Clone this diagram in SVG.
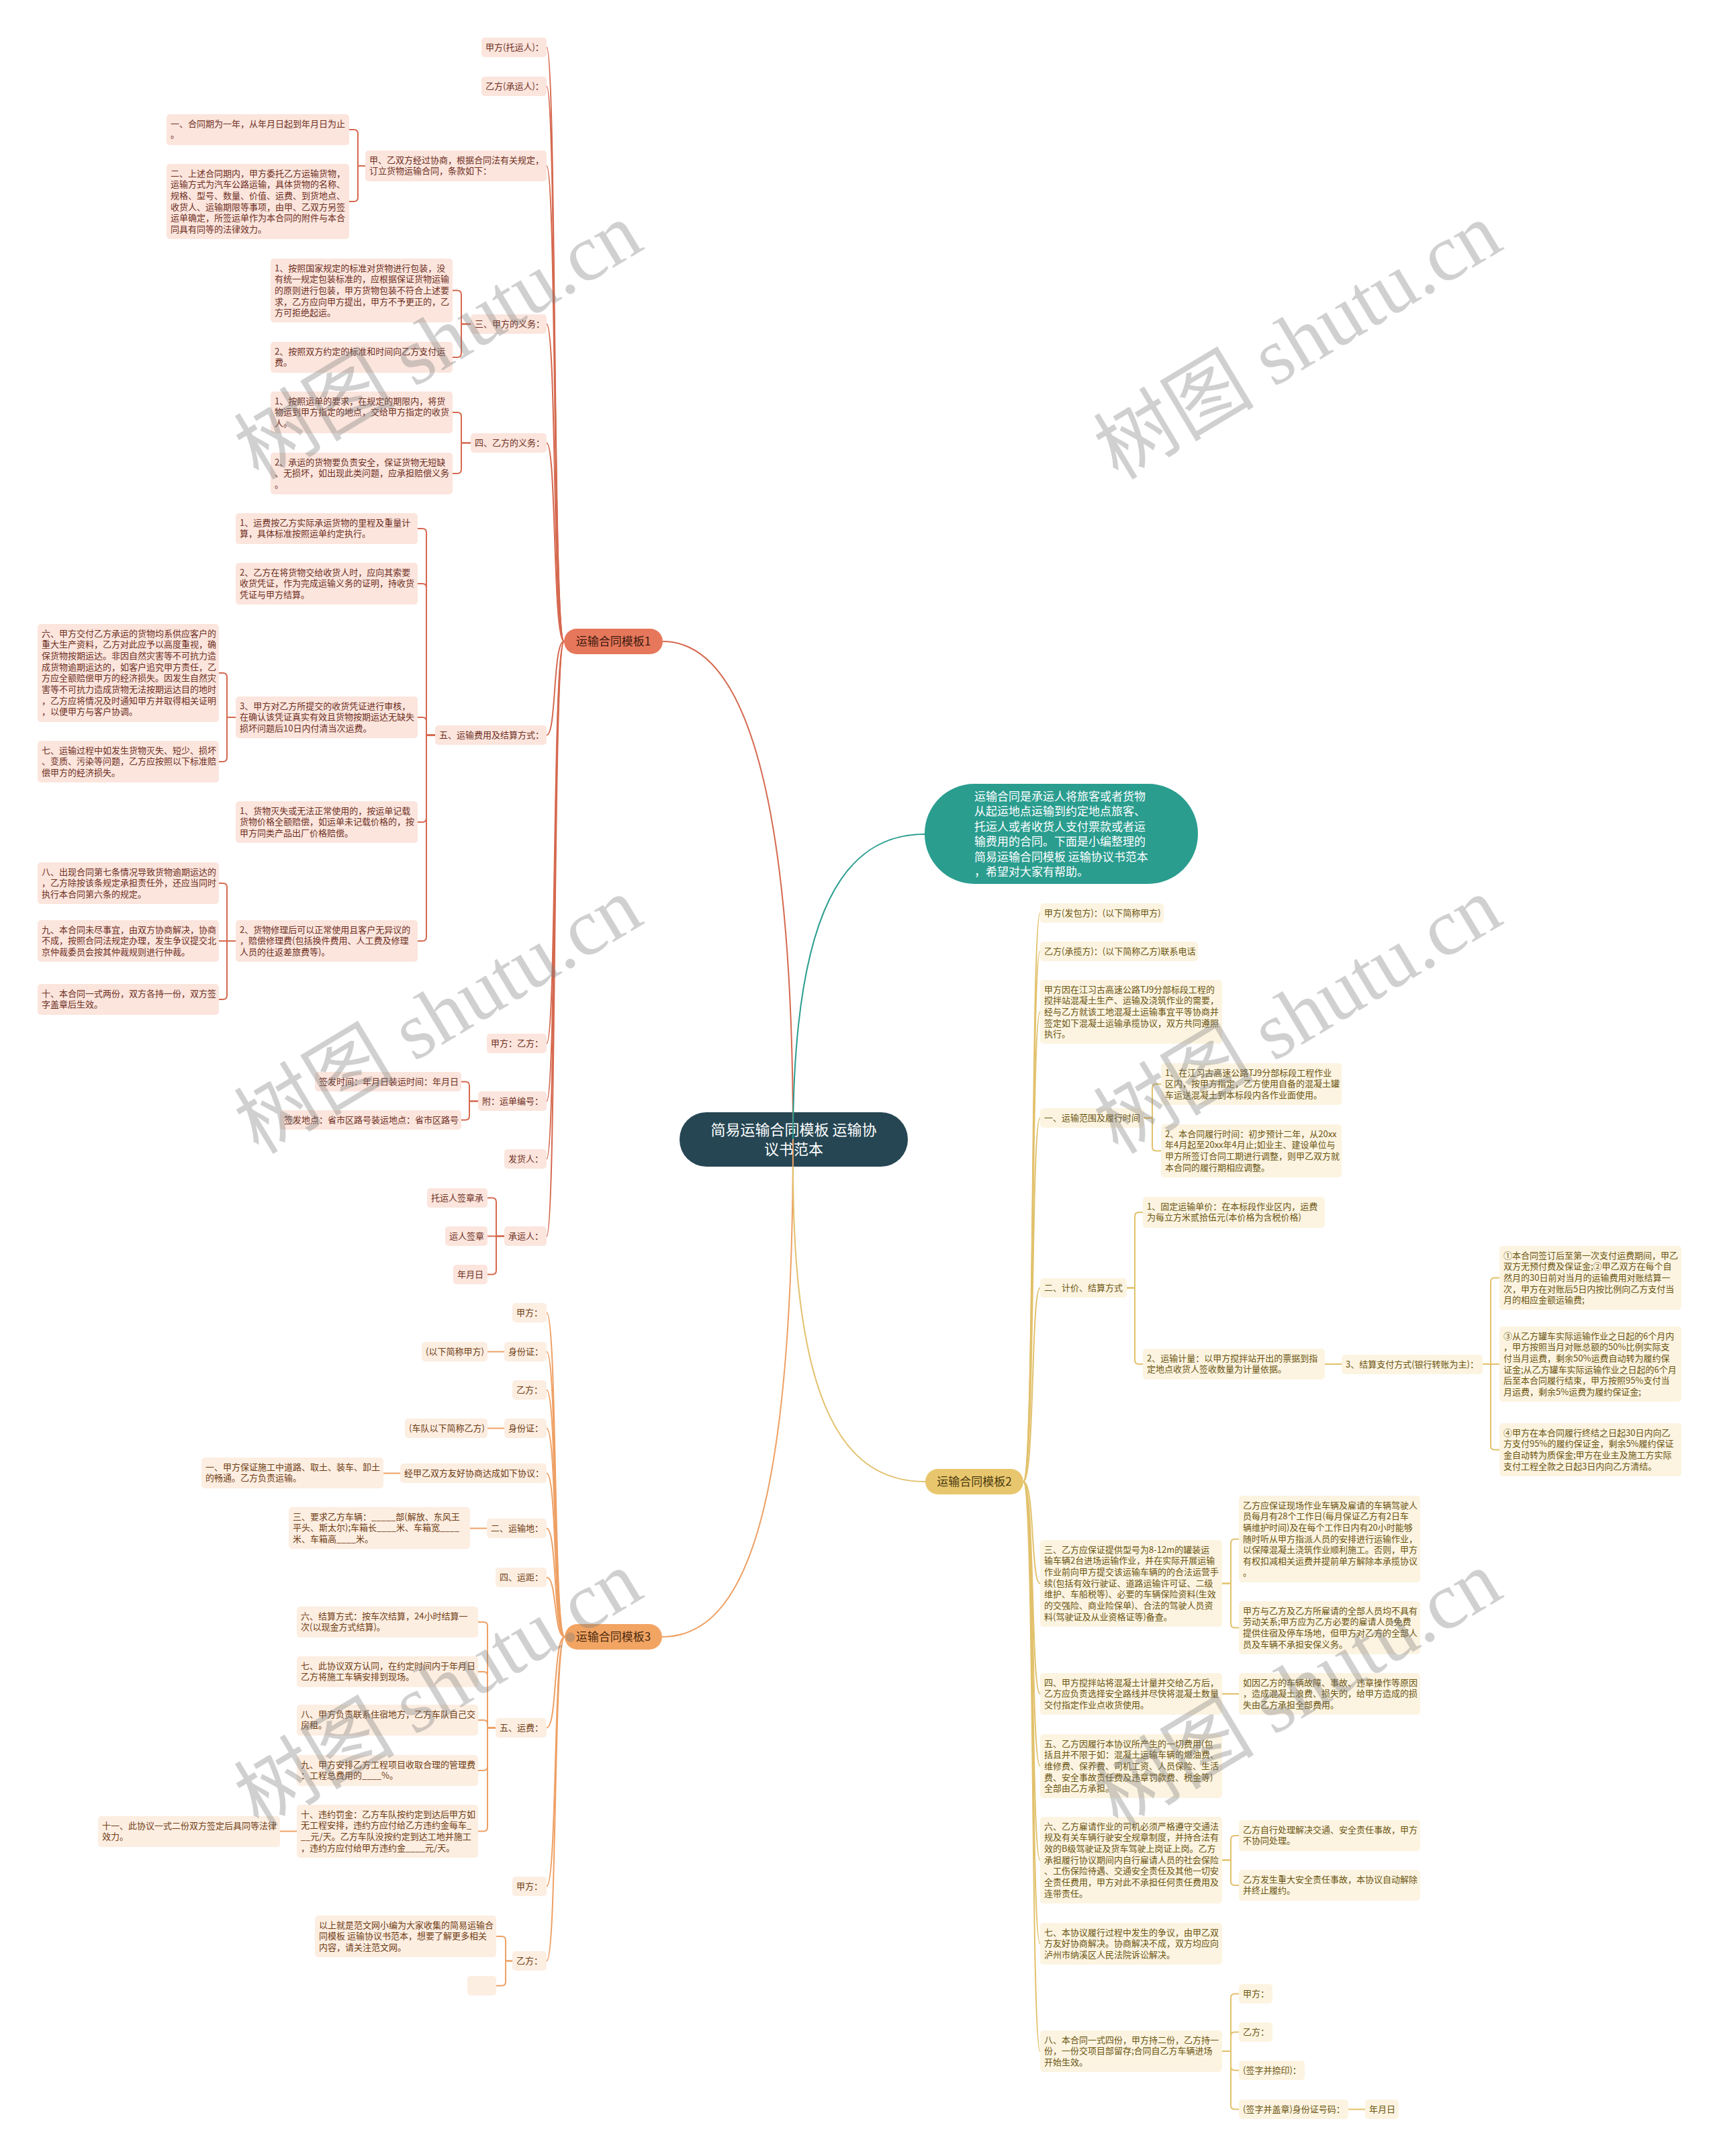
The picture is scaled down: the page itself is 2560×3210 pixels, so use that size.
<svg xmlns="http://www.w3.org/2000/svg" width="2560" height="3210" viewBox="0 0 2560 3210">
<style>
text{font-family:"Noto Sans CJK SC","Noto Sans",sans-serif;font-size:13px}
.k1 rect{fill:#fbe5dd}.k1 text{fill:#6e2f1f}
.k3 rect{fill:#fdeee2}.k3 text{fill:#6e3d14}
.k2 rect{fill:#fcf4e1}.k2 text{fill:#6b5512}
.b text{font-size:17px;text-anchor:middle}
.c1 path{fill:none;stroke:#d5694f;stroke-width:2}
.c3 path{fill:none;stroke:#eea064;stroke-width:2}
.c2 path{fill:none;stroke:#e2c16c;stroke-width:2}
.ct path{fill:none;stroke:#2a9d8f;stroke-width:2}
.wm text{font-family:"Liberation Serif","Noto Sans CJK SC",serif;font-size:120px;fill:#7a7a7a;opacity:0.35}
</style>
<rect width="2560" height="3210" fill="#ffffff"/>
<g id="root"><rect x="1012" y="1656" width="340" height="81" rx="40" fill="#264653"/><text x="1182" y="1690" style="font-size:22px;fill:#fff;text-anchor:middle"><tspan x="1182">简易运输合同模板 运输协</tspan><tspan x="1182" dy="29">议书范本</tspan></text></g>
<g id="intro"><rect x="1377" y="1167" width="407" height="149" rx="74" fill="#2a9d8f"/><text x="1451" y="1192" style="font-size:17px;fill:#fff"><tspan x="1451">运输合同是承运人将旅客或者货物</tspan><tspan x="1451" dy="22.4">从起运地点运输到约定地点旅客、</tspan><tspan x="1451" dy="22.4">托运人或者收货人支付票款或者运</tspan><tspan x="1451" dy="22.4">输费用的合同。下面是小编整理的</tspan><tspan x="1451" dy="22.4">简易运输合同模板 运输协议书范本</tspan><tspan x="1451" dy="22.4">，希望对大家有帮助。</tspan></text></g>
<g id="b1" class="b"><rect x="840" y="936" width="147" height="38" rx="19" fill="#e6775b"/><text x="913.5" y="961" fill="#3d1a10">运输合同模板1</text></g>
<g id="b2" class="b"><rect x="1378" y="2187" width="146" height="38" rx="19" fill="#e8c66d"/><text x="1451" y="2212" fill="#4a3a10">运输合同模板2</text></g>
<g id="b3" class="b"><rect x="841" y="2418" width="145" height="38" rx="19" fill="#f2a463"/><text x="913.5" y="2443" fill="#4a2a10">运输合同模板3</text></g>

<g id="A1" class="k1"><rect x="717" y="56" width="97" height="29" rx="5"/><text x="723" y="75">甲方(托运人)：</text></g>
<g id="A2" class="k1"><rect x="717" y="114" width="97" height="29" rx="5"/><text x="723" y="133">乙方(承运人)：</text></g>
<g id="A3" class="k1"><rect x="544" y="224" width="270" height="46" rx="5"/><text x="550" y="242.5"><tspan x="550">甲、乙双方经过协商，根据合同法有关规定，</tspan><tspan x="550" dy="16.7">订立货物运输合同，条款如下：</tspan></text></g>
<g id="A3a" class="k1"><rect x="248" y="170" width="272" height="46" rx="5"/><text x="254" y="188.5"><tspan x="254">一、合同期为一年，从年月日起到年月日为止</tspan><tspan x="254" dy="16.7">。</tspan></text></g>
<g id="A3b" class="k1"><rect x="248" y="244" width="272" height="112" rx="5"/><text x="254" y="262.5"><tspan x="254">二、上述合同期内，甲方委托乙方运输货物，</tspan><tspan x="254" dy="16.7">运输方式为汽车公路运输，具体货物的名称、</tspan><tspan x="254" dy="16.7">规格、型号、数量、价值、运费、到货地点、</tspan><tspan x="254" dy="16.7">收货人、运输期限等事项，由甲、乙双方另签</tspan><tspan x="254" dy="16.7">运单确定，所签运单作为本合同的附件与本合</tspan><tspan x="254" dy="16.7">同具有同等的法律效力。</tspan></text></g>
<g id="A4" class="k1"><rect x="701" y="468" width="113" height="29" rx="5"/><text x="707" y="487">三、甲方的义务：</text></g>
<g id="A4a" class="k1"><rect x="403" y="385" width="271" height="95" rx="5"/><text x="409" y="403.5"><tspan x="409">1、按照国家规定的标准对货物进行包装，没</tspan><tspan x="409" dy="16.7">有统一规定包装标准的，应根据保证货物运输</tspan><tspan x="409" dy="16.7">的原则进行包装，甲方货物包装不符合上述要</tspan><tspan x="409" dy="16.7">求，乙方应向甲方提出，甲方不予更正的，乙</tspan><tspan x="409" dy="16.7">方可拒绝起运。</tspan></text></g>
<g id="A4b" class="k1"><rect x="403" y="509" width="271" height="46" rx="5"/><text x="409" y="527.5"><tspan x="409">2、按照双方约定的标准和时间向乙方支付运</tspan><tspan x="409" dy="16.7">费。</tspan></text></g>
<g id="A5" class="k1"><rect x="701" y="645" width="113" height="29" rx="5"/><text x="707" y="664">四、乙方的义务：</text></g>
<g id="A5a" class="k1"><rect x="403" y="583" width="271" height="62" rx="5"/><text x="409" y="601.5"><tspan x="409">1、按照运单的要求，在规定的期限内，将货</tspan><tspan x="409" dy="16.7">物运到甲方指定的地点，交给甲方指定的收货</tspan><tspan x="409" dy="16.7">人。</tspan></text></g>
<g id="A5b" class="k1"><rect x="403" y="674" width="271" height="62" rx="5"/><text x="409" y="692.5"><tspan x="409">2、承运的货物要负责安全，保证货物无短缺</tspan><tspan x="409" dy="16.7">、无损坏，如出现此类问题，应承担赔偿义务</tspan><tspan x="409" dy="16.7">。</tspan></text></g>
<g id="A6" class="k1"><rect x="648" y="1080" width="166" height="29" rx="5"/><text x="654" y="1099">五、运输费用及结算方式：</text></g>
<g id="A6a" class="k1"><rect x="351" y="764" width="271" height="46" rx="5"/><text x="357" y="782.5"><tspan x="357">1、运费按乙方实际承运货物的里程及重量计</tspan><tspan x="357" dy="16.7">算，具体标准按照运单约定执行。</tspan></text></g>
<g id="A6b" class="k1"><rect x="351" y="838" width="271" height="62" rx="5"/><text x="357" y="856.5"><tspan x="357">2、乙方在将货物交给收货人时，应向其索要</tspan><tspan x="357" dy="16.7">收货凭证，作为完成运输义务的证明，持收货</tspan><tspan x="357" dy="16.7">凭证与甲方结算。</tspan></text></g>
<g id="A6c" class="k1"><rect x="351" y="1037" width="271" height="62" rx="5"/><text x="357" y="1055.5"><tspan x="357">3、甲方对乙方所提交的收货凭证进行审核，</tspan><tspan x="357" dy="16.7">在确认该凭证真实有效且货物按期运达无缺失</tspan><tspan x="357" dy="16.7">损坏问题后10日内付清当次运费。</tspan></text></g>
<g id="A6c1" class="k1"><rect x="56" y="929" width="270" height="146" rx="5"/><text x="62" y="947.5"><tspan x="62">六、甲方交付乙方承运的货物均系供应客户的</tspan><tspan x="62" dy="16.7">重大生产资料，乙方对此应予以高度重视，确</tspan><tspan x="62" dy="16.7">保货物按期运达。非因自然灾害等不可抗力造</tspan><tspan x="62" dy="16.7">成货物逾期运达的，如客户追究甲方责任，乙</tspan><tspan x="62" dy="16.7">方应全额赔偿甲方的经济损失。因发生自然灾</tspan><tspan x="62" dy="16.7">害等不可抗力造成货物无法按期运达目的地时</tspan><tspan x="62" dy="16.7">，乙方应将情况及时通知甲方并取得相关证明</tspan><tspan x="62" dy="16.7">，以便甲方与客户协调。</tspan></text></g>
<g id="A6c2" class="k1"><rect x="56" y="1103" width="270" height="62" rx="5"/><text x="62" y="1121.5"><tspan x="62">七、运输过程中如发生货物灭失、短少、损坏</tspan><tspan x="62" dy="16.7">、变质、污染等问题，乙方应按照以下标准赔</tspan><tspan x="62" dy="16.7">偿甲方的经济损失。</tspan></text></g>
<g id="A6d" class="k1"><rect x="351" y="1193" width="271" height="62" rx="5"/><text x="357" y="1211.5"><tspan x="357">1、货物灭失或无法正常使用的，按运单记载</tspan><tspan x="357" dy="16.7">货物价格全额赔偿，如运单未记载价格的，按</tspan><tspan x="357" dy="16.7">甲方同类产品出厂价格赔偿。</tspan></text></g>
<g id="A6e" class="k1"><rect x="351" y="1370" width="271" height="62" rx="5"/><text x="357" y="1388.5"><tspan x="357">2、货物修理后可以正常使用且客户无异议的</tspan><tspan x="357" dy="16.7">，赔偿修理费(包括换件费用、人工费及修理</tspan><tspan x="357" dy="16.7">人员的往返差旅费等)。</tspan></text></g>
<g id="A6e1" class="k1"><rect x="56" y="1284" width="270" height="62" rx="5"/><text x="62" y="1302.5"><tspan x="62">八、出现合同第七条情况导致货物逾期运达的</tspan><tspan x="62" dy="16.7">，乙方除按该条规定承担责任外，还应当同时</tspan><tspan x="62" dy="16.7">执行本合同第六条的规定。</tspan></text></g>
<g id="A6e2" class="k1"><rect x="56" y="1370" width="270" height="62" rx="5"/><text x="62" y="1388.5"><tspan x="62">九、本合同未尽事宜，由双方协商解决，协商</tspan><tspan x="62" dy="16.7">不成，按照合同法规定办理，发生争议提交北</tspan><tspan x="62" dy="16.7">京仲裁委员会按其仲裁规则进行仲裁。</tspan></text></g>
<g id="A6e3" class="k1"><rect x="56" y="1465" width="270" height="46" rx="5"/><text x="62" y="1483.5"><tspan x="62">十、本合同一式两份，双方各持一份，双方签</tspan><tspan x="62" dy="16.7">字盖章后生效。</tspan></text></g>
<g id="A7" class="k1"><rect x="725" y="1539" width="89" height="29" rx="5"/><text x="731" y="1558">甲方：乙方：</text></g>
<g id="A8" class="k1"><rect x="712" y="1625" width="102" height="29" rx="5"/><text x="718" y="1644">附：运单编号：</text></g>
<g id="A8a" class="k1"><rect x="469" y="1596" width="218" height="29" rx="5"/><text x="475" y="1615">签发时间：年月日装运时间：年月日</text></g>
<g id="A8b" class="k1"><rect x="417" y="1653" width="270" height="29" rx="5"/><text x="423" y="1672">签发地点：省市区路号装运地点：省市区路号</text></g>
<g id="A9" class="k1"><rect x="751" y="1711" width="63" height="29" rx="5"/><text x="757" y="1730">发货人：</text></g>
<g id="A10" class="k1"><rect x="751" y="1826" width="63" height="29" rx="5"/><text x="757" y="1845">承运人：</text></g>
<g id="A10a" class="k1"><rect x="636" y="1769" width="90" height="29" rx="5"/><text x="642" y="1788">托运人签章承</text></g>
<g id="A10b" class="k1"><rect x="663" y="1826" width="63" height="29" rx="5"/><text x="669" y="1845">运人签章</text></g>
<g id="A10c" class="k1"><rect x="675" y="1883" width="51" height="29" rx="5"/><text x="681" y="1902">年月日</text></g>

<g id="B1" class="k3"><rect x="763" y="1940" width="51" height="29" rx="5"/><text x="769" y="1959">甲方：</text></g>
<g id="B2" class="k3"><rect x="751" y="1998" width="63" height="29" rx="5"/><text x="757" y="2017">身份证：</text></g>
<g id="B2a" class="k3"><rect x="628" y="1998" width="98" height="29" rx="5"/><text x="634" y="2017">(以下简称甲方)</text></g>
<g id="B3" class="k3"><rect x="763" y="2055" width="51" height="29" rx="5"/><text x="769" y="2074">乙方：</text></g>
<g id="B4" class="k3"><rect x="751" y="2112" width="63" height="29" rx="5"/><text x="757" y="2131">身份证：</text></g>
<g id="B4a" class="k3"><rect x="603" y="2112" width="123" height="29" rx="5"/><text x="609" y="2131">(车队以下简称乙方)</text></g>
<g id="B5" class="k3"><rect x="596" y="2179" width="218" height="29" rx="5"/><text x="602" y="2198">经甲乙双方友好协商达成如下协议：</text></g>
<g id="B5a" class="k3"><rect x="300" y="2170" width="271" height="46" rx="5"/><text x="306" y="2188.5"><tspan x="306">一、甲方保证施工中道路、取土、装车、卸土</tspan><tspan x="306" dy="16.7">的畅通。乙方负责运输。</tspan></text></g>
<g id="B6" class="k3"><rect x="725" y="2261" width="89" height="29" rx="5"/><text x="731" y="2280">二、运输地：</text></g>
<g id="B6a" class="k3"><rect x="430" y="2244" width="270" height="62" rx="5"/><text x="436" y="2262.5"><tspan x="436">三、要求乙方车辆：_____部(解放、东风王</tspan><tspan x="436" dy="16.7">平头、斯太尔);车箱长____米、车箱宽____</tspan><tspan x="436" dy="16.7">米、车箱高____米。</tspan></text></g>
<g id="B7" class="k3"><rect x="738" y="2334" width="76" height="29" rx="5"/><text x="744" y="2353">四、运距：</text></g>
<g id="B8" class="k3"><rect x="738" y="2558" width="76" height="29" rx="5"/><text x="744" y="2577">五、运费：</text></g>
<g id="B8a" class="k3"><rect x="442" y="2392" width="270" height="46" rx="5"/><text x="448" y="2410.5"><tspan x="448">六、结算方式：按车次结算，24小时结算一</tspan><tspan x="448" dy="16.7">次(以现金方式结算)。</tspan></text></g>
<g id="B8b" class="k3"><rect x="442" y="2466" width="270" height="46" rx="5"/><text x="448" y="2484.5"><tspan x="448">七、此协议双方认同，在约定时间内于年月日</tspan><tspan x="448" dy="16.7">乙方将施工车辆安排到现场。</tspan></text></g>
<g id="B8c" class="k3"><rect x="442" y="2538" width="270" height="46" rx="5"/><text x="448" y="2556.5"><tspan x="448">八、甲方负责联系住宿地方，乙方车队自己交</tspan><tspan x="448" dy="16.7">房租。</tspan></text></g>
<g id="B8d" class="k3"><rect x="442" y="2613" width="270" height="46" rx="5"/><text x="448" y="2631.5"><tspan x="448">九、甲方安排乙方工程项目收取合理的管理费</tspan><tspan x="448" dy="16.7">：工程总费用的____%。</tspan></text></g>
<g id="B8e" class="k3"><rect x="442" y="2687" width="270" height="79" rx="5"/><text x="448" y="2705.5"><tspan x="448">十、违约罚金：乙方车队按约定到达后甲方如</tspan><tspan x="448" dy="16.7">无工程安排，违约方应付给乙方违约金每车_</tspan><tspan x="448" dy="16.7">__元/天。乙方车队没按约定到达工地并施工</tspan><tspan x="448" dy="16.7">，违约方应付给甲方违约金____元/天。</tspan></text></g>
<g id="B8e1" class="k3"><rect x="146" y="2704" width="271" height="46" rx="5"/><text x="152" y="2722.5"><tspan x="152">十一、此协议一式二份双方签定后具同等法律</tspan><tspan x="152" dy="16.7">效力。</tspan></text></g>
<g id="B9" class="k3"><rect x="763" y="2794" width="51" height="29" rx="5"/><text x="769" y="2813">甲方：</text></g>
<g id="B10" class="k3"><rect x="763" y="2905" width="51" height="29" rx="5"/><text x="769" y="2924">乙方：</text></g>
<g id="B10a" class="k3"><rect x="469" y="2852" width="270" height="62" rx="5"/><text x="475" y="2870.5"><tspan x="475">以上就是范文网小编为大家收集的简易运输合</tspan><tspan x="475" dy="16.7">同模板 运输协议书范本，想要了解更多相关</tspan><tspan x="475" dy="16.7">内容，请关注范文网。</tspan></text></g>
<g id="B10b" class="k3"><rect x="696" y="2942" width="43" height="29" rx="5"/></g>

<g id="C1" class="k2"><rect x="1549" y="1345" width="184" height="29" rx="5"/><text x="1555" y="1364">甲方(发包方)：(以下简称甲方)</text></g>
<g id="C2" class="k2"><rect x="1549" y="1402" width="235" height="29" rx="5"/><text x="1555" y="1421">乙方(承揽方)：(以下简称乙方)联系电话</text></g>
<g id="C3" class="k2"><rect x="1549" y="1459" width="271" height="95" rx="5"/><text x="1555" y="1477.5"><tspan x="1555">甲方因在江习古高速公路TJ9分部标段工程的</tspan><tspan x="1555" dy="16.7">搅拌站混凝土生产、运输及浇筑作业的需要，</tspan><tspan x="1555" dy="16.7">经与乙方就该工地混凝土运输事宜平等协商并</tspan><tspan x="1555" dy="16.7">签定如下混凝土运输承揽协议，双方共同遵照</tspan><tspan x="1555" dy="16.7">执行。</tspan></text></g>
<g id="C4" class="k2"><rect x="1549" y="1650" width="155" height="29" rx="5"/><text x="1555" y="1669">一、运输范围及履行时间</text></g>
<g id="C4a" class="k2"><rect x="1729" y="1583" width="269" height="62" rx="5"/><text x="1735" y="1601.5"><tspan x="1735">1、在江习古高速公路TJ9分部标段工程作业</tspan><tspan x="1735" dy="16.7">区内，按甲方指定，乙方使用自备的混凝土罐</tspan><tspan x="1735" dy="16.7">车运送混凝土到本标段内各作业面使用。</tspan></text></g>
<g id="C4b" class="k2"><rect x="1729" y="1674" width="269" height="79" rx="5"/><text x="1735" y="1692.5"><tspan x="1735">2、本合同履行时间：初步预计二年，从20xx</tspan><tspan x="1735" dy="16.7">年4月起至20xx年4月止;如业主、建设单位与</tspan><tspan x="1735" dy="16.7">甲方所签订合同工期进行调整，则甲乙双方就</tspan><tspan x="1735" dy="16.7">本合同的履行期相应调整。</tspan></text></g>
<g id="C5" class="k2"><rect x="1549" y="1903" width="129" height="29" rx="5"/><text x="1555" y="1922">二、计价、结算方式</text></g>
<g id="C5a" class="k2"><rect x="1702" y="1782" width="271" height="46" rx="5"/><text x="1708" y="1800.5"><tspan x="1708">1、固定运输单价：在本标段作业区内，运费</tspan><tspan x="1708" dy="16.7">为每立方米贰拾伍元(本价格为含税价格)</tspan></text></g>
<g id="C5b" class="k2"><rect x="1702" y="2008" width="271" height="46" rx="5"/><text x="1708" y="2026.5"><tspan x="1708">2、运输计量：以甲方搅拌站开出的票据到指</tspan><tspan x="1708" dy="16.7">定地点收货人签收数量为计量依据。</tspan></text></g>
<g id="C5b1" class="k2"><rect x="1998" y="2017" width="210" height="29" rx="5"/><text x="2004" y="2036">3、结算支付方式(银行转账为主)：</text></g>
<g id="C5b1a" class="k2"><rect x="2233" y="1855" width="271" height="95" rx="5"/><text x="2239" y="1873.5"><tspan x="2239">①本合同签订后至第一次支付运费期间，甲乙</tspan><tspan x="2239" dy="16.7">双方无预付费及保证金;②甲乙双方在每个自</tspan><tspan x="2239" dy="16.7">然月的30日前对当月的运输费用对账结算一</tspan><tspan x="2239" dy="16.7">次，甲方在对账后5日内按比例向乙方支付当</tspan><tspan x="2239" dy="16.7">月的相应金额运输费;</tspan></text></g>
<g id="C5b1b" class="k2"><rect x="2233" y="1975" width="271" height="112" rx="5"/><text x="2239" y="1993.5"><tspan x="2239">③从乙方罐车实际运输作业之日起的6个月内</tspan><tspan x="2239" dy="16.7">，甲方按照当月对账总额的50%比例实际支</tspan><tspan x="2239" dy="16.7">付当月运费，剩余50%运费自动转为履约保</tspan><tspan x="2239" dy="16.7">证金;从乙方罐车实际运输作业之日起的6个月</tspan><tspan x="2239" dy="16.7">后至本合同履行结束，甲方按照95%支付当</tspan><tspan x="2239" dy="16.7">月运费，剩余5%运费为履约保证金;</tspan></text></g>
<g id="C5b1c" class="k2"><rect x="2233" y="2119" width="271" height="79" rx="5"/><text x="2239" y="2137.5"><tspan x="2239">④甲方在本合同履行终结之日起30日内向乙</tspan><tspan x="2239" dy="16.7">方支付95%的履约保证金，剩余5%履约保证</tspan><tspan x="2239" dy="16.7">金自动转为质保金;甲方在业主及施工方实际</tspan><tspan x="2239" dy="16.7">支付工程全款之日起3日内向乙方清结。</tspan></text></g>
<g id="C6" class="k2"><rect x="1549" y="2293" width="271" height="129" rx="5"/><text x="1555" y="2311.5"><tspan x="1555">三、乙方应保证提供型号为8-12m的罐装运</tspan><tspan x="1555" dy="16.7">输车辆2台进场运输作业，并在实际开展运输</tspan><tspan x="1555" dy="16.7">作业前向甲方提交该运输车辆的的合法运营手</tspan><tspan x="1555" dy="16.7">续(包括有效行驶证、道路运输许可证、二级</tspan><tspan x="1555" dy="16.7">维护、车船税等)、必要的车辆保险资料(生效</tspan><tspan x="1555" dy="16.7">的交强险、商业险保单)、合法的驾驶人员资</tspan><tspan x="1555" dy="16.7">料(驾驶证及从业资格证等)备查。</tspan></text></g>
<g id="C6a" class="k2"><rect x="1845" y="2227" width="270" height="129" rx="5"/><text x="1851" y="2245.5"><tspan x="1851">乙方应保证现场作业车辆及雇请的车辆驾驶人</tspan><tspan x="1851" dy="16.7">员每月有28个工作日(每月保证乙方有2日车</tspan><tspan x="1851" dy="16.7">辆维护时间)及在每个工作日内有20小时能够</tspan><tspan x="1851" dy="16.7">随时听从甲方指派人员的安排进行运输作业，</tspan><tspan x="1851" dy="16.7">以保障混凝土浇筑作业顺利施工。否则，甲方</tspan><tspan x="1851" dy="16.7">有权扣减相关运费并提前单方解除本承揽协议</tspan><tspan x="1851" dy="16.7">。</tspan></text></g>
<g id="C6b" class="k2"><rect x="1845" y="2384" width="270" height="79" rx="5"/><text x="1851" y="2402.5"><tspan x="1851">甲方与乙方及乙方所雇请的全部人员均不具有</tspan><tspan x="1851" dy="16.7">劳动关系;甲方应为乙方必要的雇请人员免费</tspan><tspan x="1851" dy="16.7">提供住宿及停车场地，但甲方对乙方的全部人</tspan><tspan x="1851" dy="16.7">员及车辆不承担安保义务。</tspan></text></g>
<g id="C7" class="k2"><rect x="1549" y="2491" width="271" height="62" rx="5"/><text x="1555" y="2509.5"><tspan x="1555">四、甲方搅拌站将混凝土计量并交给乙方后，</tspan><tspan x="1555" dy="16.7">乙方应负责选择安全路线并尽快将混凝土数量</tspan><tspan x="1555" dy="16.7">交付指定作业点收货使用。</tspan></text></g>
<g id="C7a" class="k2"><rect x="1845" y="2491" width="270" height="62" rx="5"/><text x="1851" y="2509.5"><tspan x="1851">如因乙方的车辆故障、事故、违章操作等原因</tspan><tspan x="1851" dy="16.7">，造成混凝土浪费、损失的，给甲方造成的损</tspan><tspan x="1851" dy="16.7">失由乙方承担全部费用。</tspan></text></g>
<g id="C8" class="k2"><rect x="1549" y="2582" width="271" height="95" rx="5"/><text x="1555" y="2600.5"><tspan x="1555">五、乙方因履行本协议所产生的一切费用(包</tspan><tspan x="1555" dy="16.7">括且并不限于如：混凝土运输车辆的燃油费、</tspan><tspan x="1555" dy="16.7">维修费、保养费、司机工资、人员保险、生活</tspan><tspan x="1555" dy="16.7">费、安全事故责任费及违章罚款费、税金等)</tspan><tspan x="1555" dy="16.7">全部由乙方承担。</tspan></text></g>
<g id="C9" class="k2"><rect x="1549" y="2705" width="271" height="129" rx="5"/><text x="1555" y="2723.5"><tspan x="1555">六、乙方雇请作业的司机必须严格遵守交通法</tspan><tspan x="1555" dy="16.7">规及有关车辆行驶安全规章制度，并持合法有</tspan><tspan x="1555" dy="16.7">效的B级驾驶证及货车驾驶上岗证上岗。乙方</tspan><tspan x="1555" dy="16.7">承担履行协议期间内自行雇请人员的社会保险</tspan><tspan x="1555" dy="16.7">、工伤保险待遇、交通安全责任及其他一切安</tspan><tspan x="1555" dy="16.7">全责任费用，甲方对此不承担任何责任费用及</tspan><tspan x="1555" dy="16.7">连带责任。</tspan></text></g>
<g id="C9a" class="k2"><rect x="1845" y="2710" width="270" height="46" rx="5"/><text x="1851" y="2728.5"><tspan x="1851">乙方自行处理解决交通、安全责任事故，甲方</tspan><tspan x="1851" dy="16.7">不协同处理。</tspan></text></g>
<g id="C9b" class="k2"><rect x="1845" y="2784" width="270" height="46" rx="5"/><text x="1851" y="2802.5"><tspan x="1851">乙方发生重大安全责任事故，本协议自动解除</tspan><tspan x="1851" dy="16.7">并终止履约。</tspan></text></g>
<g id="C10" class="k2"><rect x="1549" y="2863" width="271" height="62" rx="5"/><text x="1555" y="2881.5"><tspan x="1555">七、本协议履行过程中发生的争议，由甲乙双</tspan><tspan x="1555" dy="16.7">方友好协商解决。协商解决不成，双方均应向</tspan><tspan x="1555" dy="16.7">泸州市纳溪区人民法院诉讼解决。</tspan></text></g>
<g id="C11" class="k2"><rect x="1549" y="3023" width="271" height="62" rx="5"/><text x="1555" y="3041.5"><tspan x="1555">八、本合同一式四份，甲方持二份，乙方持一</tspan><tspan x="1555" dy="16.7">份，一份交项目部留存;合同自乙方车辆进场</tspan><tspan x="1555" dy="16.7">开始生效。</tspan></text></g>
<g id="C11a" class="k2"><rect x="1845" y="2954" width="50" height="29" rx="5"/><text x="1851" y="2973">甲方：</text></g>
<g id="C11b" class="k2"><rect x="1845" y="3011" width="50" height="29" rx="5"/><text x="1851" y="3030">乙方：</text></g>
<g id="C11c" class="k2"><rect x="1845" y="3068" width="98" height="29" rx="5"/><text x="1851" y="3087">(签字并捺印)：</text></g>
<g id="C11d" class="k2"><rect x="1845" y="3126" width="163" height="29" rx="5"/><text x="1851" y="3145">(签字并盖章)身份证号码：</text></g>
<g id="C11d1" class="k2"><rect x="2033" y="3126" width="50" height="29" rx="5"/><text x="2039" y="3145">年月日</text></g>

<g id="connectors">
<g class="c1">
<path d="M1181 1696C1181 1150 1100 955 987 955" stroke-width="2.5"/>
<path d="M840 955C823 955 829 70.5 814 70.5"/>
<path d="M840 955C823 955 829 128.5 814 128.5"/>
<path d="M840 955C823 955 829 247 814 247"/>
<path d="M840 955C823 955 829 482.5 814 482.5"/>
<path d="M840 955C823 955 829 659.5 814 659.5"/>
<path d="M840 955C823 955 829 1094.5 814 1094.5"/>
<path d="M840 955C823 955 829 1553.5 814 1553.5"/>
<path d="M840 955C823 955 829 1639.5 814 1639.5"/>
<path d="M840 955C823 955 829 1725.5 814 1725.5"/>
<path d="M840 955C823 955 829 1840.5 814 1840.5"/>
<path d="M544 247H533V199Q533 193 527 193H520"/>
<path d="M544 247H533V294Q533 300 527 300H520"/>
<path d="M701 482.5H687V438.5Q687 432.5 681 432.5H674"/>
<path d="M701 482.5H687V526Q687 532 681 532H674"/>
<path d="M701 659.5H687V620Q687 614 681 614H674"/>
<path d="M701 659.5H687V699Q687 705 681 705H674"/>
<path d="M648 1094.5H635V793Q635 787 629 787H622"/>
<path d="M648 1094.5H635V875Q635 869 629 869H622"/>
<path d="M648 1094.5H635V1074Q635 1068 629 1068H622"/>
<path d="M648 1094.5H635V1218Q635 1224 629 1224H622"/>
<path d="M648 1094.5H635V1395Q635 1401 629 1401H622"/>
<path d="M351 1068H338V1008Q338 1002 332 1002H326"/>
<path d="M351 1068H338V1128Q338 1134 332 1134H326"/>
<path d="M351 1401H338V1321Q338 1315 332 1315H326"/>
<path d="M351 1401H326"/>
<path d="M351 1401H338V1482Q338 1488 332 1488H326"/>
<path d="M712 1639.5H699V1616.5Q699 1610.5 693 1610.5H687"/>
<path d="M712 1639.5H699V1661.5Q699 1667.5 693 1667.5H687"/>
<path d="M751 1840.5H739V1789.5Q739 1783.5 733 1783.5H726"/>
<path d="M751 1840.5H726"/>
<path d="M751 1840.5H739V1891.5Q739 1897.5 733 1897.5H726"/>
</g>
<g class="ct"><path d="M1181 1696C1181 1350 1260 1242 1377 1242" stroke-width="2.5"/></g>
<g class="c3">
<path d="M1181 1696C1181 2250 1110 2437 986 2437" stroke-width="2.5"/>
<path d="M841 2437C824 2437 830 1954.5 814 1954.5"/>
<path d="M841 2437C824 2437 830 2012.5 814 2012.5"/>
<path d="M841 2437C824 2437 830 2069.5 814 2069.5"/>
<path d="M841 2437C824 2437 830 2126.5 814 2126.5"/>
<path d="M841 2437C824 2437 830 2193.5 814 2193.5"/>
<path d="M841 2437C824 2437 830 2275.5 814 2275.5"/>
<path d="M841 2437C824 2437 830 2348.5 814 2348.5"/>
<path d="M841 2437C824 2437 830 2572.5 814 2572.5"/>
<path d="M841 2437C824 2437 830 2808.5 814 2808.5"/>
<path d="M841 2437C824 2437 830 2919.5 814 2919.5"/>
<path d="M751 2012.5H726"/>
<path d="M751 2126.5H726"/>
<path d="M596 2193.5H571"/>
<path d="M725 2275.5H700"/>
<path d="M738 2572.5H726V2421Q726 2415 720 2415H712"/>
<path d="M738 2572.5H726V2495Q726 2489 720 2489H712"/>
<path d="M738 2572.5H726V2567Q726 2561 720 2561H712"/>
<path d="M738 2572.5H726V2630Q726 2636 720 2636H712"/>
<path d="M738 2572.5H726V2720.5Q726 2726.5 720 2726.5H712"/>
<path d="M442 2726.5H417"/>
<path d="M763 2919.5H753V2889Q753 2883 747 2883H739"/>
<path d="M763 2919.5H753V2950.5Q753 2956.5 747 2956.5H739"/>
</g>
<g class="c2">
<path d="M1181 1737C1181 2100 1260 2206 1378 2206" stroke-width="2.5"/>
<path d="M1524 2206C1541 2206 1535 1359.5 1549 1359.5"/>
<path d="M1524 2206C1541 2206 1535 1416.5 1549 1416.5"/>
<path d="M1524 2206C1541 2206 1535 1506.5 1549 1506.5"/>
<path d="M1524 2206C1541 2206 1535 1664.5 1549 1664.5"/>
<path d="M1524 2206C1541 2206 1535 1917.5 1549 1917.5"/>
<path d="M1524 2206C1541 2206 1535 2357.5 1549 2357.5"/>
<path d="M1524 2206C1541 2206 1535 2522 1549 2522"/>
<path d="M1524 2206C1541 2206 1535 2629.5 1549 2629.5"/>
<path d="M1524 2206C1541 2206 1535 2769.5 1549 2769.5"/>
<path d="M1524 2206C1541 2206 1535 2894 1549 2894"/>
<path d="M1524 2206C1541 2206 1535 3054 1549 3054"/>
<path d="M1704 1664.5H1716V1620Q1716 1614 1722 1614H1729"/>
<path d="M1704 1664.5H1716V1707.5Q1716 1713.5 1722 1713.5H1729"/>
<path d="M1678 1917.5H1690V1811Q1690 1805 1696 1805H1702"/>
<path d="M1678 1917.5H1690V2025Q1690 2031 1696 2031H1702"/>
<path d="M1973 2031H1998"/>
<path d="M2208 2031H2220V1908.5Q2220 1902.5 2226 1902.5H2233"/>
<path d="M2208 2031H2233"/>
<path d="M2208 2031H2220V2152.5Q2220 2158.5 2226 2158.5H2233"/>
<path d="M1820 2357.5H1833V2297.5Q1833 2291.5 1839 2291.5H1845"/>
<path d="M1820 2357.5H1833V2417.5Q1833 2423.5 1839 2423.5H1845"/>
<path d="M1820 2522H1845"/>
<path d="M1820 2769.5H1833V2739Q1833 2733 1839 2733H1845"/>
<path d="M1820 2769.5H1833V2801Q1833 2807 1839 2807H1845"/>
<path d="M1820 3054H1833V2974.5Q1833 2968.5 1839 2968.5H1845"/>
<path d="M1820 3054H1833V3031.5Q1833 3025.5 1839 3025.5H1845"/>
<path d="M1820 3054H1833V3076.5Q1833 3082.5 1839 3082.5H1845"/>
<path d="M1820 3054H1833V3134.5Q1833 3140.5 1839 3140.5H1845"/>
<path d="M2008 3140.5H2033"/>
</g>
</g>

<g id="watermark" class="wm">
<text transform="translate(385 716) rotate(-31)">树图 shutu.cn</text>
<text transform="translate(1665 716) rotate(-31)">树图 shutu.cn</text>
<text transform="translate(385 1720) rotate(-31)">树图 shutu.cn</text>
<text transform="translate(1665 1720) rotate(-31)">树图 shutu.cn</text>
<text transform="translate(385 2723) rotate(-31)">树图 shutu.cn</text>
<text transform="translate(1665 2723) rotate(-31)">树图 shutu.cn</text>
</g>
</svg>
